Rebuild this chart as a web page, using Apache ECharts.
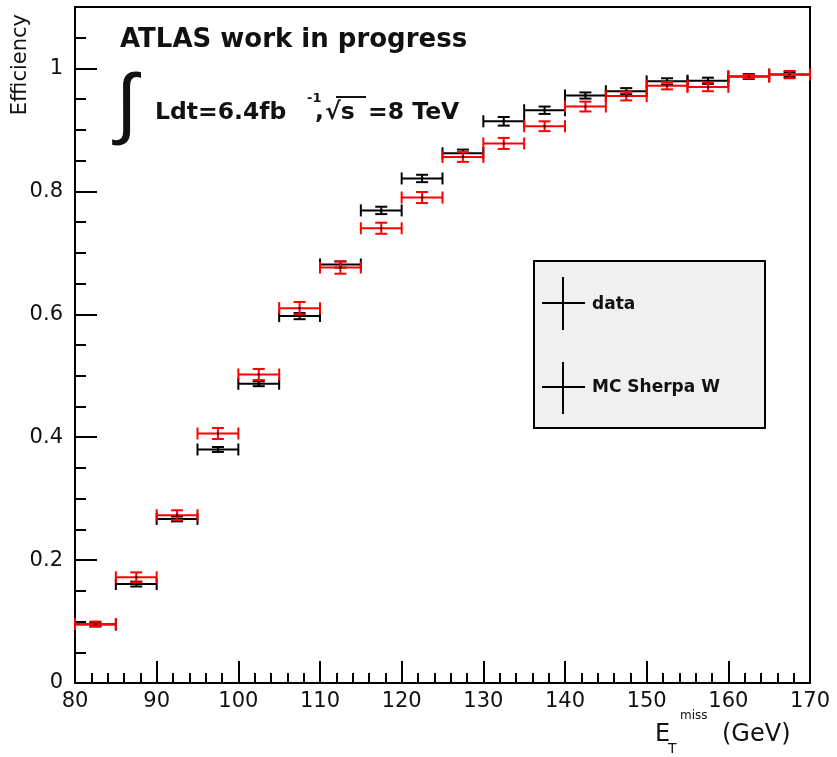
<!DOCTYPE html>
<html>
<head>
<meta charset="utf-8">
<script src="https://cdn.jsdelivr.net/npm/echarts@6/dist/echarts.min.js"></script>
<style>
html,body{margin:0;padding:0;background:#fff;}
#chart{width:837px;height:757px;}
</style>
</head>
<body>
<div id="chart"></div>
<script>
// ---- data ----
var binLow  = [80, 85, 90, 95, 100, 105, 110, 115, 120, 125, 130, 135, 140, 145, 150, 155, 160, 165];
var binWidth = 5;
var dataEff = [0.095, 0.161, 0.267, 0.380, 0.487, 0.597, 0.681, 0.769, 0.821, 0.862, 0.914, 0.932, 0.956, 0.963, 0.979, 0.980, 0.987, 0.990];
var dataErr = [0.003, 0.004, 0.004, 0.004, 0.004, 0.005, 0.005, 0.006, 0.006, 0.006, 0.007, 0.006, 0.005, 0.005, 0.005, 0.005, 0.004, 0.004];
var mcEff   = [0.096, 0.172, 0.273, 0.406, 0.502, 0.610, 0.676, 0.740, 0.790, 0.856, 0.878, 0.906, 0.938, 0.955, 0.972, 0.970, 0.987, 0.990];
var mcErr   = [0.004, 0.008, 0.008, 0.009, 0.009, 0.010, 0.010, 0.009, 0.009, 0.008, 0.009, 0.008, 0.008, 0.007, 0.006, 0.007, 0.003, 0.006];
var seriesNames = ['data', 'MC Sherpa W'];
var xTicks = {min: 80, max: 170, interval: 10};
var yTicks = {min: 0, max: 1.1, interval: 0.2};

function build(eff, err) {
  return binLow.map(function (lo, i) { return [lo, lo + binWidth, eff[i], err[i]]; });
}

function makeRender(color) {
  return function (params, api) {
    var lo = api.value(0), hi = api.value(1), y = api.value(2), e = api.value(3);
    var mid = (lo + hi) / 2;
    var pL = api.coord([lo, y]), pR = api.coord([hi, y]);
    var pT = api.coord([mid, y + e]), pB = api.coord([mid, y - e]);
    var cx = (pL[0] + pR[0]) / 2, cy = pL[1];
    var st = {stroke: color, lineWidth: 2};
    function ln(x1, y1, x2, y2) { return {type: 'line', shape: {x1: x1, y1: y1, x2: x2, y2: y2}, style: st}; }
    return {
      type: 'group',
      children: [
        ln(pL[0], cy, pR[0], cy),
        ln(pL[0], cy - 6, pL[0], cy + 6),
        ln(pR[0], cy - 6, pR[0], cy + 6),
        ln(cx, pT[1], cx, pB[1]),
        ln(cx - 6, pT[1], cx + 6, pT[1]),
        ln(cx - 6, pB[1], cx + 6, pB[1]),
        {type: 'rect', shape: {x: cx - 1, y: cy - 1, width: 2, height: 2}, style: {fill: '#000'}}
      ]
    };
  };
}

var chart = echarts.init(document.getElementById('chart'), null, {renderer: 'canvas'});
var font = 'DejaVu Sans';
var option = {
  backgroundColor: '#fff',
  animation: false,
  grid: {left: 75, right: 27, top: 7, bottom: 74, show: true, borderColor: '#000', borderWidth: 2, backgroundColor: 'transparent'},
  xAxis: {
    type: 'value', min: xTicks.min, max: xTicks.max, interval: xTicks.interval,
    axisLine: {show: true, onZero: false, lineStyle: {color: '#000', width: 2}},
    axisTick: {show: true, inside: true, length: 22, lineStyle: {color: '#000', width: 2}},
    minorTick: {show: true, splitNumber: 5, length: 10, lineStyle: {color: '#000', width: 2}},
    splitLine: {show: false},
    axisLabel: {fontFamily: font, fontSize: 21, color: '#111', margin: 8}
  },
  yAxis: {
    type: 'value', min: yTicks.min, max: yTicks.max, interval: yTicks.interval,
    axisLine: {show: true, onZero: false, lineStyle: {color: '#000', width: 2}},
    axisTick: {show: true, inside: true, length: 22, lineStyle: {color: '#000', width: 2}},
    minorTick: {show: true, splitNumber: 4, length: 11, lineStyle: {color: '#000', width: 2}},
    splitLine: {show: false},
    axisLabel: {fontFamily: font, fontSize: 21, color: '#111', margin: 12,
      formatter: function (v) { return v > 1.05 ? '' : String(Math.round(v * 10) / 10); }}
  },
  series: [
    {type: 'custom', name: seriesNames[0], renderItem: makeRender('#000'), data: build(dataEff, dataErr), encode: {x: [0, 1], y: 2}, z: 2},
    {type: 'custom', name: seriesNames[1], renderItem: makeRender('#ff0000'), data: build(mcEff, mcErr), encode: {x: [0, 1], y: 2}, z: 3}
  ],
  graphic: [
    {type: 'text', x: 120, y: 27, style: {text: 'ATLAS work in progress', fontFamily: font, fontWeight: 'bold', fontSize: 26, fill: '#111'}},
    {type: 'text', x: 116, y: 68, style: {text: '∫', fontFamily: 'Liberation Sans', fontSize: 78, fill: '#111'}},
    {type: 'text', x: 155, y: 101, style: {text: 'Ldt=6.4fb', fontFamily: font, fontWeight: 'bold', fontSize: 23.5, fill: '#111'}},
    {type: 'text', x: 307, y: 92, style: {text: '-1', fontFamily: font, fontWeight: 'bold', fontSize: 13, fill: '#111'}},
    {type: 'text', x: 315, y: 101, style: {text: ',', fontFamily: font, fontWeight: 'bold', fontSize: 23.5, fill: '#111'}},
    {type: 'text', x: 325, y: 101, style: {text: '√s', fontFamily: font, fontWeight: 'bold', fontSize: 23.5, fill: '#111'}},
    {type: 'line', shape: {x1: 336, y1: 97, x2: 366, y2: 97}, style: {stroke: '#111', lineWidth: 2}},
    {type: 'text', x: 368, y: 101, style: {text: '=8 TeV', fontFamily: font, fontWeight: 'bold', fontSize: 23.5, fill: '#111'}},
    // y title
    {type: 'text', x: 21, y: 14, rotation: Math.PI / 2, style: {text: 'Efficiency', fontFamily: font, fontSize: 21, fill: '#111', align: 'right', verticalAlign: 'middle'}},
    // x title
    {type: 'text', x: 655, y: 723, style: {text: 'E', fontFamily: font, fontSize: 24, fill: '#111'}},
    {type: 'text', x: 668, y: 742, style: {text: 'T', fontFamily: font, fontSize: 14, fill: '#111'}},
    {type: 'text', x: 680, y: 710, style: {text: 'miss', fontFamily: font, fontSize: 12, fill: '#111'}},
    {type: 'text', x: 722, y: 723, style: {text: '(GeV)', fontFamily: font, fontSize: 24, fill: '#111'}},
    // legend box
    {type: 'rect', shape: {x: 534, y: 261, width: 231, height: 167}, style: {fill: '#f0f0f0', stroke: '#000', lineWidth: 2}},
    {type: 'line', shape: {x1: 542, y1: 303, x2: 585, y2: 303}, style: {stroke: '#000', lineWidth: 2}},
    {type: 'line', shape: {x1: 563, y1: 277, x2: 563, y2: 330}, style: {stroke: '#000', lineWidth: 2}},
    {type: 'text', x: 592, y: 305, style: {text: seriesNames[0], fontFamily: font, fontWeight: 'bold', fontSize: 17, fill: '#111', verticalAlign: 'middle'}},
    {type: 'line', shape: {x1: 542, y1: 387, x2: 585, y2: 387}, style: {stroke: '#000', lineWidth: 2}},
    {type: 'line', shape: {x1: 563, y1: 362, x2: 563, y2: 414}, style: {stroke: '#000', lineWidth: 2}},
    {type: 'text', x: 592, y: 388, style: {text: seriesNames[1], fontFamily: font, fontWeight: 'bold', fontSize: 17, fill: '#111', verticalAlign: 'middle'}}
  ]
};
chart.setOption(option);
</script>
</body>
</html>
